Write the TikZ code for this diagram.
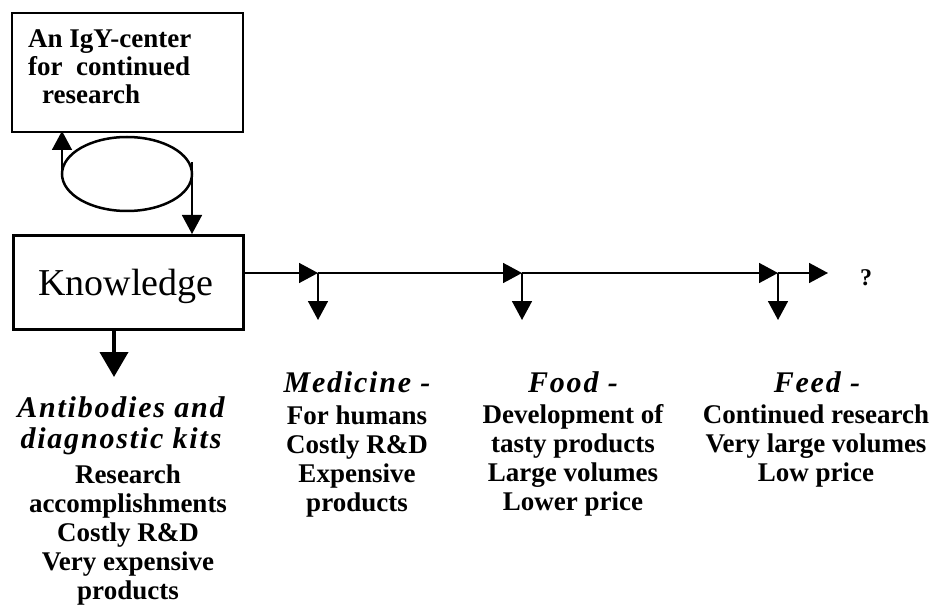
\documentclass[tikz,border=0pt]{standalone}
\usepackage{fontspec}
\setmainfont{Liberation Serif}
\newfontface\ttlface{Liberation Serif Bold Italic}[LetterSpace=6]
\usetikzlibrary{arrows.meta,shapes.geometric}
\tikzset{
  box/.style={draw, inner sep=0pt, anchor=north west},
  thinarrow/.style={line width=1.6pt, -{Triangle[length=19pt,width=20pt]}},
  thickarrow/.style={line width=4pt, -{Triangle[length=25pt,width=28pt]}},
  titletext/.style={anchor=base, align=center, inner sep=0pt,
    font=\ttlface\fontsize{30}{31}\selectfont},
  bodytext/.style={anchor=base, align=center, inner sep=0pt,
    font=\fontsize{27}{29}\selectfont\bfseries},
}
\begin{document}
\begin{tikzpicture}[x=1pt,y=-1pt]
\useasboundingbox (0,0) rectangle (939,612);
% top box
\node[box, line width=2pt, minimum width=231pt, minimum height=119pt] (igy) at (11,12) {};
\node[anchor=base west, align=left, inner sep=0pt,
      font=\fontsize{27}{28}\selectfont\bfseries] (igytext) at (28,104)
  {An IgY-center\\for\ \ continued\\\hspace*{14pt}research};
% loop ellipse
\node[ellipse, draw, line width=2.5pt, minimum width=130pt, minimum height=74pt, inner sep=0pt] (loop) at (127,174) {};
\coordinate (upstart) at (62,174);
\coordinate (upend) at (62,131);
\coordinate (dnstart) at (192,162);
\coordinate (dnend) at (192,234);
\draw[thinarrow] (upstart) -- (upend);
\draw[thinarrow] (dnstart) -- (dnend);
% knowledge box
\node[box, line width=3pt, minimum width=230pt, minimum height=94pt] (know) at (12,234) {};
\node[anchor=base, inner sep=0pt, font=\fontsize{38}{40}\selectfont] (knowtext) at (126,295) {Knowledge};
% thick arrow down
\coordinate (kbot) at (114,328);
\coordinate (kend) at (114,377);
\draw[thickarrow] (kbot) -- (kend);
% horizontal chain
\coordinate (h0) at (243,273);
\coordinate (h1) at (318,273);
\coordinate (h2) at (522,273);
\coordinate (h3) at (778,273);
\coordinate (h4) at (828,273);
\coordinate (d1) at (318,320);
\coordinate (d2) at (522,320);
\coordinate (d3) at (778,320);
\draw[thinarrow] (h0) -- (h1);
\draw[thinarrow] (h1) -- (h2);
\draw[thinarrow] (h2) -- (h3);
\draw[thinarrow] (h3) -- (h4);
\draw[thinarrow] (h1) -- (d1);
\draw[thinarrow] (h2) -- (d2);
\draw[thinarrow] (h3) -- (d3);
\node[anchor=base, inner sep=0pt, font=\fontsize{24}{26}\selectfont\bfseries] (q) at (866,285) {?};
% texts (base anchor = baseline of last line)
\node[titletext] (abt) at (121,448) {Antibodies and\\diagnostic kits};
\node[bodytext] (abb) at (128,599) {Research\\accomplishments\\Costly R\&D\\Very expensive\\products};
\node[titletext] (medt) at (357,392) {Medicine -};
\node[bodytext] (medb) at (357,511) {For humans\\Costly R\&D\\Expensive\\products};
\node[titletext] (foodt) at (573,392) {Food -};
\node[bodytext] (foodb) at (573,510) {Development of\\tasty products\\Large volumes\\Lower price};
\node[titletext] (feedt) at (817,392) {Feed -};
\node[bodytext] (feedb) at (816,481) {Continued research\\Very large volumes\\Low price};
\end{tikzpicture}
\end{document}
